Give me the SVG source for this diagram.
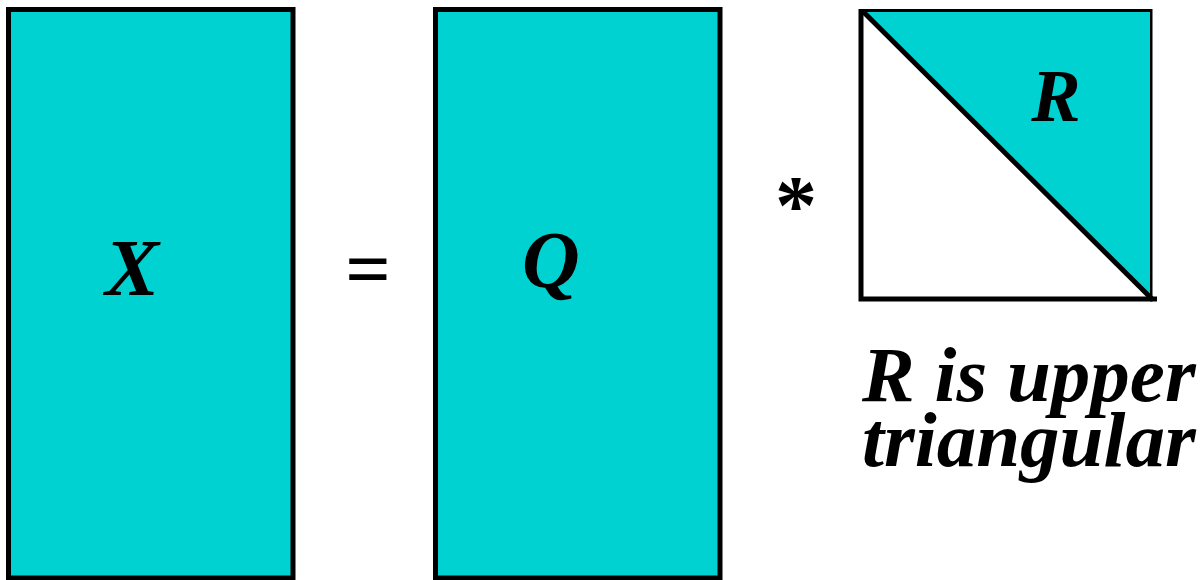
<svg xmlns="http://www.w3.org/2000/svg" width="1202" height="580" viewBox="0 0 1202 580">
<style>
.box{fill:#00d2d2;stroke:#000;stroke-width:5}
.t{font-family:"Liberation Serif","Times New Roman",serif;font-weight:bold;font-style:italic;fill:#000}
.op{font-family:"Liberation Serif","Times New Roman",serif;font-weight:bold;fill:#000}
</style>
<rect width="1202" height="580" fill="#fff"/>
<g id="X">
<rect class="box" x="8.5" y="9.5" width="284.5" height="568.5"/>
<text class="t" x="132" y="295" font-size="81" text-anchor="middle">X</text>
</g>
<g id="eq">
<text class="op" x="368" y="296" font-size="80" text-anchor="middle" font-family="Liberation Sans">=</text>
</g>
<g id="Q">
<rect class="box" x="435.5" y="9.5" width="284.5" height="568.5"/>
<text class="t" x="551" y="287" font-size="80" text-anchor="middle">Q</text>
</g>
<g id="star">
<text class="op" x="796" y="234" font-size="84" text-anchor="middle">*</text>
</g>
<g id="R">
<rect x="861" y="11.5" width="289" height="287.5" fill="#fff" stroke="#000" stroke-width="5"/>
<polygon points="863,12 1150,12 1150,298" fill="#00d2d2"/>
<line x1="863" y1="11.5" x2="1152" y2="299" stroke="#000" stroke-width="5"/>
<line x1="1150" y1="299" x2="1157" y2="299" stroke="#000" stroke-width="5"/>
<text class="t" x="1056" y="121" font-size="74" text-anchor="middle">R</text>
</g>
<g id="caption">
<text class="t" font-size="79"><tspan x="862" y="401">R is upper</tspan><tspan x="862" y="466">triangular</tspan></text>
</g>
</svg>
